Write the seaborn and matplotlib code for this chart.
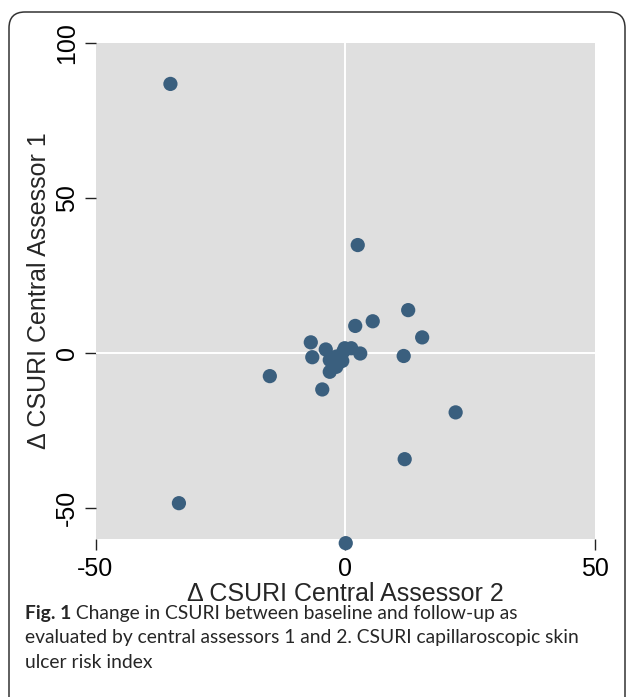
"""
Scatter of change in CSURI: central assessor 2 (x) vs central assessor 1 (y).
"""
import matplotlib
matplotlib.use('Agg')
import matplotlib.pyplot as plt
from matplotlib.patches import FancyBboxPatch
from matplotlib.transforms import IdentityTransform
import seaborn as sns
import pandas as pd

# change in CSURI, central assessor 2
delta_assessor2 = [-35.0, -33.3, 0.1, 2.5, 12.6, 15.4, 11.7, 22.1, 11.9, 5.5,
                   2.0, -6.9, -6.6, -15.1, -4.6, -3.9, -3.1, -0.1, 1.2, 3.0,
                   -0.6, -3.1, -1.8, -0.4, -1.8]
# change in CSURI, central assessor 1
delta_assessor1 = [86.7, -48.6, -61.5, 34.7, 13.7, 4.9, -1.1, -19.3, -34.4, 10.1,
                   8.6, 3.3, -1.5, -7.6, -11.9, 1.0, -6.2, 1.4, 1.4, -0.3,
                   -2.7, -2.4, -1.3, 0.3, -4.6]
x_ticks = [-50, 0, 50]
y_ticks = [-50, 0, 50, 100]

df = pd.DataFrame({"a2": delta_assessor2, "a1": delta_assessor1})

sns.set_style("white")
plt.rcParams['font.family'] = ['Liberation Sans', 'DejaVu Sans']
plt.rcParams['axes.unicode_minus'] = False

W, H = 627, 697
fig = plt.figure(figsize=(W / 100, H / 100), dpi=100)
ax = fig.add_axes([95.5 / W, 1 - 538.5 / H, (595 - 95.5) / W, (538.5 - 42.7) / H])
ax.set_facecolor("#dfdfdf")

ax.axvline(0, color="white", lw=1.4, zorder=1)
ax.axhline(0, color="white", lw=1.4, zorder=1)

sns.scatterplot(data=df, x="a2", y="a1", ax=ax, s=105, color="#3a5f7e",
                edgecolor="none", linewidth=0, zorder=3, clip_on=False)

ax.set_xlim(-50, 50)
ax.set_ylim(-60, 100)
ax.set_xticks(x_ticks)
ax.set_yticks(y_ticks)
for s in ax.spines.values():
    s.set_visible(False)
ax.tick_params(axis="both", direction="out", length=8, width=1, color="#222222",
               labelsize=18, labelcolor="black", bottom=True, left=True)
ax.tick_params(axis="x", pad=5)
ax.tick_params(axis="y", pad=4)
plt.setp(ax.get_yticklabels(), rotation=90, va="center")

ax.set_xlabel("Δ CSURI Central Assessor 2", fontsize=18, labelpad=1)
ax.set_ylabel("Δ CSURI Central Assessor 1", fontsize=18, labelpad=3)

# caption
cap_font = ['Lato', 'DejaVu Sans']
cap_size = 13.9
fig_lbl = fig.text(25 / W, 1 - 614 / H, "Fig. 1", fontsize=cap_size, fontweight="bold",
                   family=cap_font, va="center", ha="left")
ax.annotate(" Change in CSURI between baseline and follow-up as", xy=(1, 0.5),
            xycoords=fig_lbl, va="center", ha="left", fontsize=cap_size, family=cap_font,
            annotation_clip=False)
fig.text(25 / W, 1 - 638 / H,
         "evaluated by central assessors 1 and 2. CSURI capillaroscopic skin",
         fontsize=cap_size, family=cap_font, va="center", ha="left")
fig.text(25 / W, 1 - 662 / H, "ulcer risk index",
         fontsize=cap_size, family=cap_font, va="center", ha="left")

# rounded frame around the figure
frame = FancyBboxPatch((9, -40), 616, H - 12 + 40,
                       boxstyle="round,pad=0,rounding_size=16",
                       transform=IdentityTransform(), fill=False,
                       edgecolor="#333333", linewidth=1.1)
fig.patches.append(frame)

fig.savefig("out.png", dpi=100)
plt.close(fig)
